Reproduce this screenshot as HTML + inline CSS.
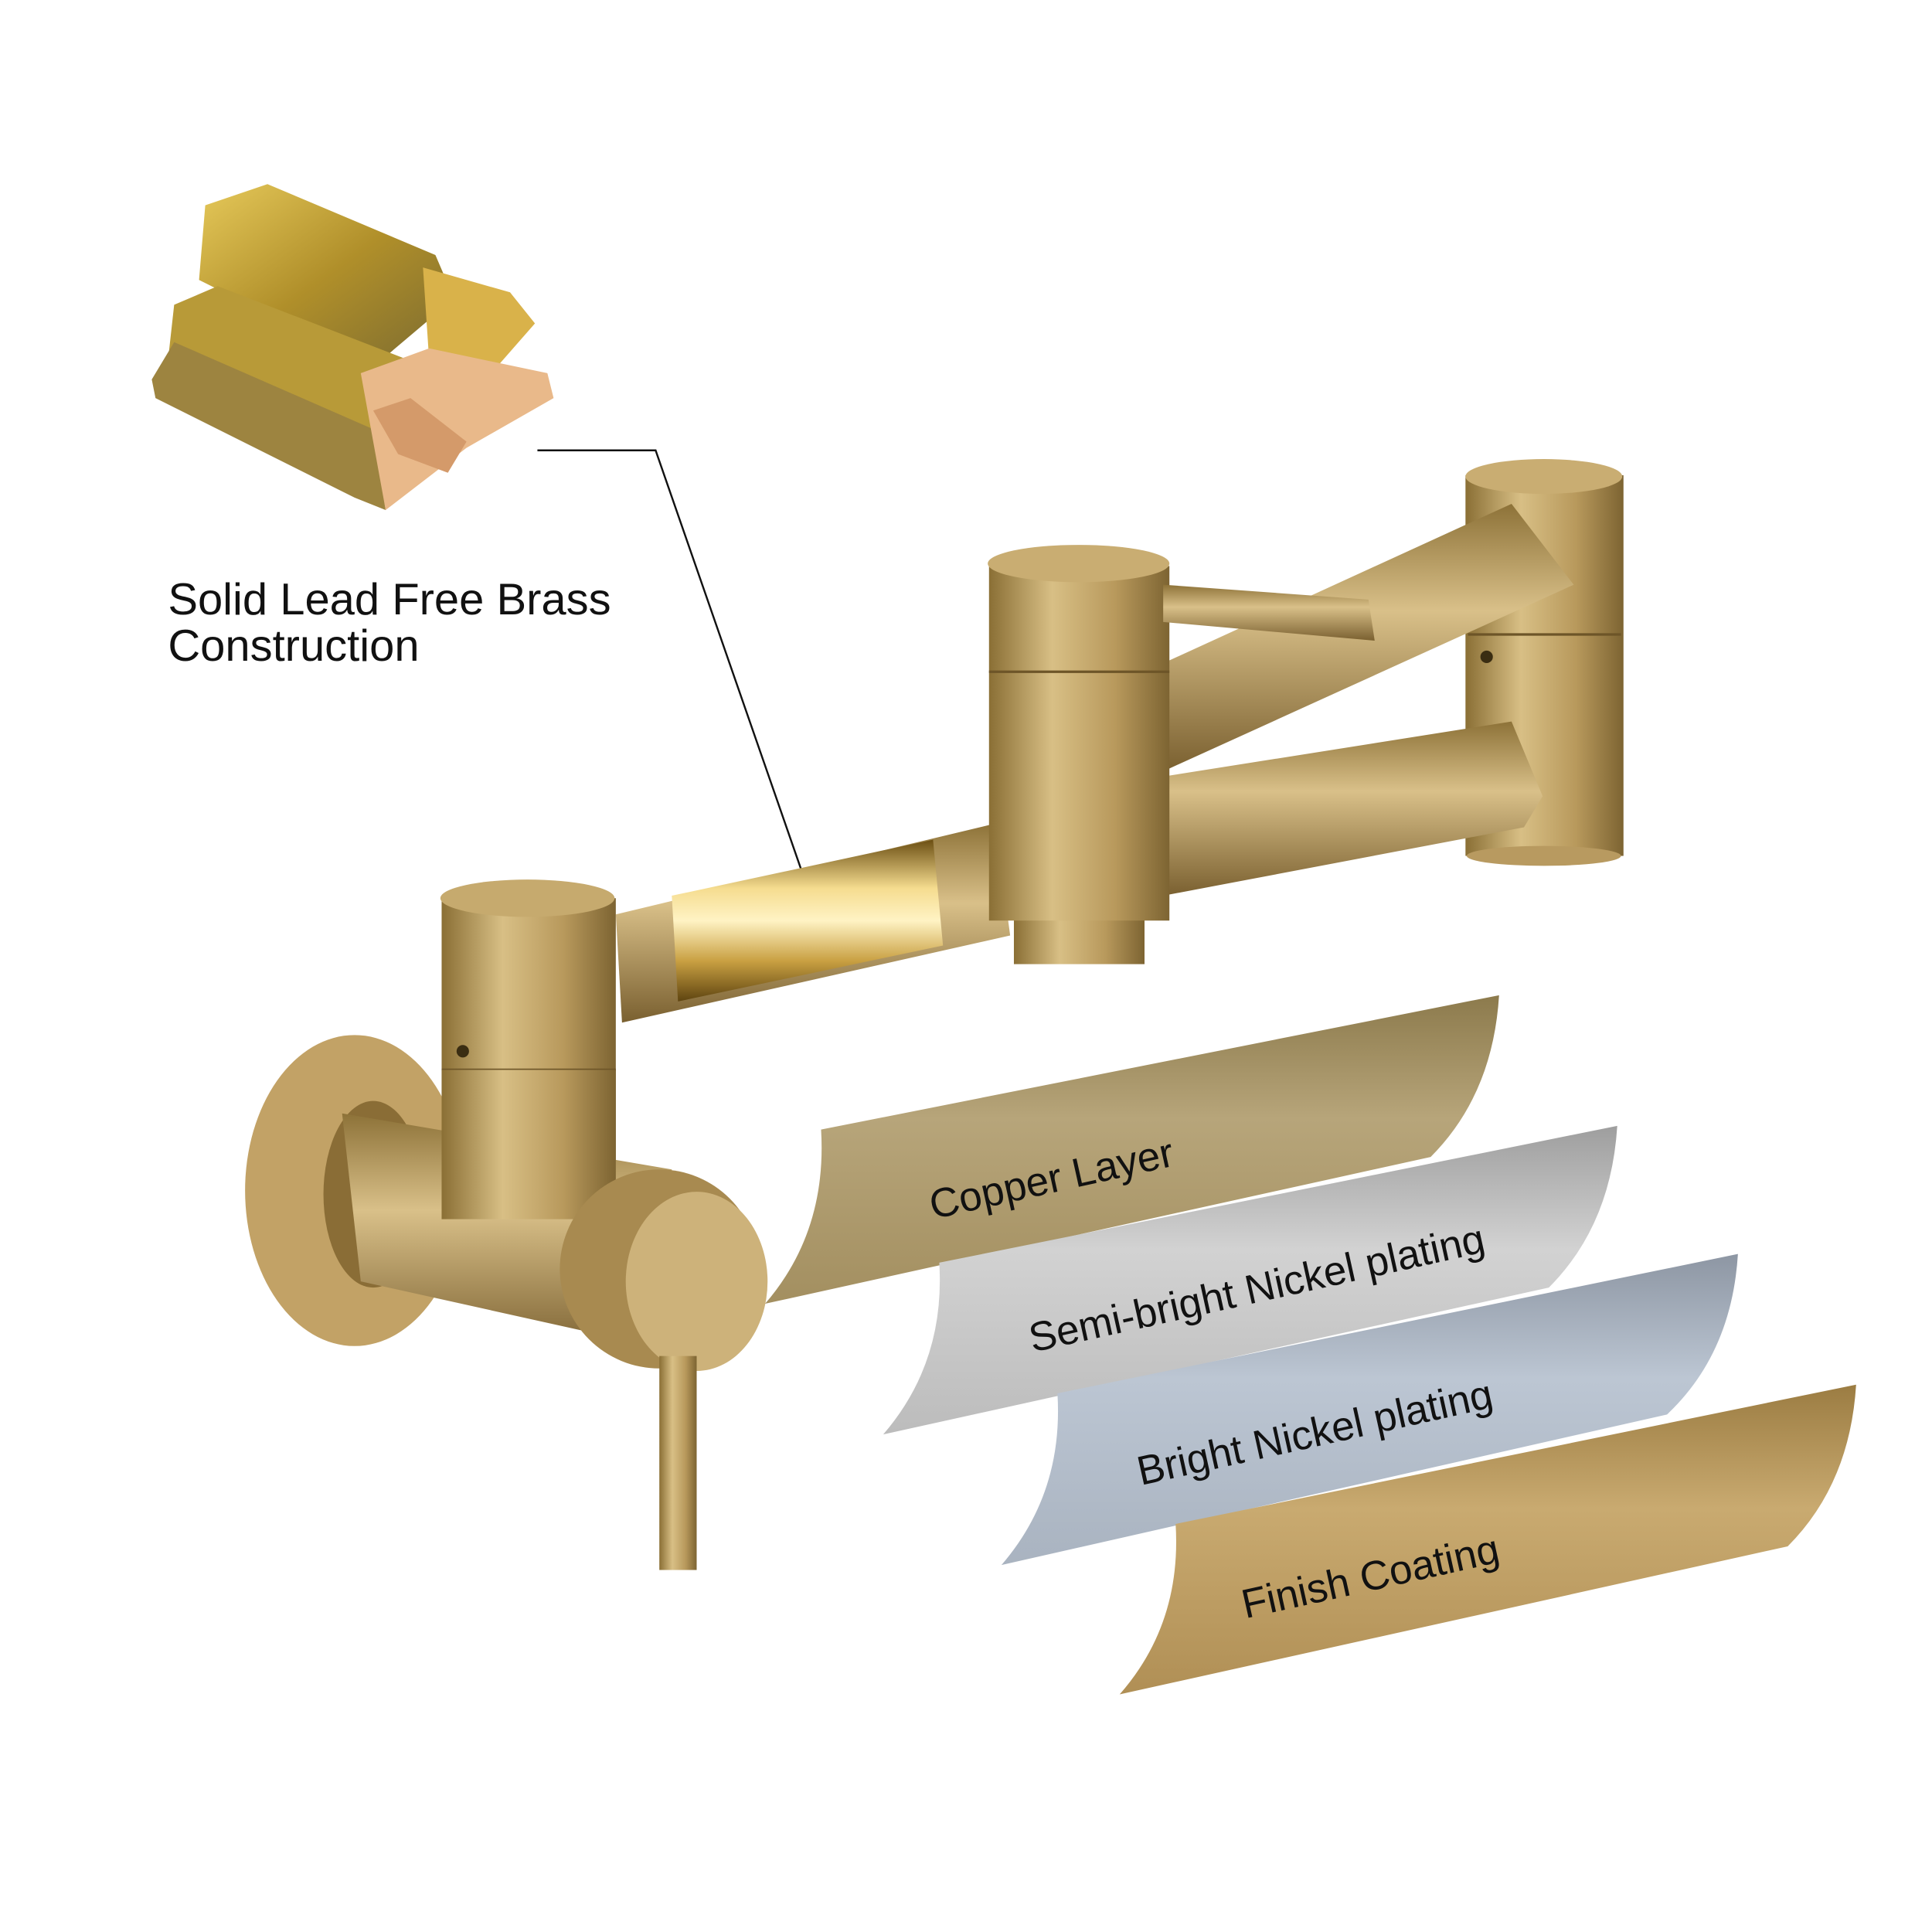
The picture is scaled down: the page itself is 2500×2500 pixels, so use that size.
<!DOCTYPE html>
<html><head><meta charset="utf-8"><style>
html,body{margin:0;padding:0;background:#fff;}
svg{display:block;}
text{font-family:"Liberation Sans",sans-serif;fill:#111;}
</style></head><body>
<svg width="2500" height="2500" viewBox="0 0 1553 1553" xmlns="http://www.w3.org/2000/svg">
<defs>
<linearGradient id="gv" x1="0" y1="0" x2="1" y2="0">
<stop offset="0" stop-color="#8a6f35"/><stop offset="0.35" stop-color="#d8bf85"/><stop offset="0.7" stop-color="#b8995c"/><stop offset="1" stop-color="#7d6432"/></linearGradient>
<linearGradient id="gh" x1="0" y1="0" x2="0" y2="1">
<stop offset="0" stop-color="#8d7238"/><stop offset="0.4" stop-color="#d9c089"/><stop offset="1" stop-color="#7a6030"/></linearGradient>
<linearGradient id="gloss" x1="0" y1="0" x2="0" y2="1">
<stop offset="0" stop-color="#6b4e12"/><stop offset="0.3" stop-color="#f5dc8f"/><stop offset="0.5" stop-color="#fff3c4"/><stop offset="0.75" stop-color="#c9a042"/><stop offset="1" stop-color="#5e4410"/></linearGradient>
<linearGradient id="gold" x1="0" y1="0" x2="1" y2="1">
<stop offset="0" stop-color="#e6c95a"/><stop offset="0.5" stop-color="#b08f2a"/><stop offset="1" stop-color="#7a6a30"/></linearGradient>
<linearGradient id="cu" x1="0" y1="0" x2="0" y2="1"><stop offset="0" stop-color="#8c7a4c"/><stop offset="0.4" stop-color="#b7a57a"/><stop offset="1" stop-color="#a38f60"/></linearGradient>
<linearGradient id="sb" x1="0" y1="0" x2="0" y2="1"><stop offset="0" stop-color="#9e9e9e"/><stop offset="0.4" stop-color="#d2d2d2"/><stop offset="1" stop-color="#bcbcbc"/></linearGradient>
<linearGradient id="bn" x1="0" y1="0" x2="0" y2="1"><stop offset="0" stop-color="#8d96a3"/><stop offset="0.4" stop-color="#bcc6d3"/><stop offset="1" stop-color="#a9b3c0"/></linearGradient>
<linearGradient id="fc" x1="0" y1="0" x2="0" y2="1"><stop offset="0" stop-color="#9b7c42"/><stop offset="0.4" stop-color="#c9aa70"/><stop offset="1" stop-color="#b08f55"/></linearGradient>
</defs>
<rect width="1553" height="1553" fill="#fff"/>

<polygon points="165,165 215,148 350,205 365,240 300,295 160,225" fill="url(#gold)"/>
<polygon points="340,215 410,235 430,260 395,300 345,290" fill="#d9b24a"/>
<polygon points="140,245 175,230 330,290 340,340 295,360 135,290" fill="#b89a38"/>
<polygon points="122,305 140,275 300,345 310,410 285,400 125,320" fill="#9d8440"/>
<polygon points="290,300 345,280 440,300 445,320 375,360 310,410" fill="#e9b98a"/>
<polygon points="300,330 330,320 375,355 360,380 320,365" fill="#d49a6a"/>

<polyline points="432,362 527,362 652,722" fill="none" stroke="#111" stroke-width="1.5"/>

<text x="135" y="494" font-size="36">Solid Lead Free Brass</text>
<text x="135" y="531" font-size="36">Construction</text>

<rect x="1178" y="382" width="127" height="306" fill="url(#gv)"/>
<ellipse cx="1241" cy="383" rx="63" ry="14" fill="#c9ad72"/>
<line x1="1180" y1="510" x2="1303" y2="510" stroke="#6d5528" stroke-width="2"/>
<ellipse cx="1241" cy="688" rx="62" ry="8" fill="#b89a60"/>
<polygon points="920,540 1215,405 1265,470 935,620" fill="url(#gh)"/>
<polygon points="930,625 1215,580 1240,640 1225,665 935,720" fill="url(#gh)"/>
<polygon points="495,735 800,662 812,752 500,822" fill="url(#gh)"/>
<polygon points="540,720 750,675 758,760 545,805" fill="url(#gloss)"/>
<rect x="355" y="722" width="140" height="255" fill="url(#gv)"/>
<ellipse cx="424" cy="722" rx="70" ry="15" fill="#c6aa6e"/>
<line x1="355" y1="860" x2="495" y2="860" stroke="#6d5528" stroke-width="2"/>
<circle cx="372" cy="845" r="5" fill="#3a2d12"/>
<ellipse cx="285" cy="957" rx="88" ry="125" fill="#c2a266"/>
<ellipse cx="300" cy="960" rx="40" ry="75" fill="#8a6d36"/>
<polygon points="275,895 540,940 560,1090 290,1030" fill="url(#gh)"/>
<rect x="355" y="860" width="140" height="120" fill="url(#gv)"/>
<ellipse cx="530" cy="1020" rx="80" ry="80" fill="#a88a50"/>
<ellipse cx="560" cy="1030" rx="57" ry="72" fill="#cdb27a"/>
<rect x="530" y="1090" width="30" height="172" fill="url(#gv)"/>
<rect x="815" y="730" width="105" height="45" fill="url(#gv)"/>
<rect x="795" y="455" width="145" height="285" fill="url(#gv)"/>
<ellipse cx="867" cy="453" rx="73" ry="15" fill="#c9ad72"/>
<line x1="795" y1="540" x2="940" y2="540" stroke="#6d5528" stroke-width="2"/>
<polygon points="935,470 1100,482 1105,515 935,500" fill="url(#gh)"/>
<circle cx="1195" cy="528" r="5" fill="#3a2d12"/>

<path d="M660,908 L1205,800 Q1200,880 1150,930 L615,1048 Q665,990 660,908 Z" fill="url(#cu)"/>
<path d="M755,1015 L1300,905 Q1295,985 1245,1035 L710,1153 Q760,1095 755,1015 Z" fill="url(#sb)"/>
<path d="M850,1120 L1397,1008 Q1392,1088 1340,1137 L805,1258 Q855,1200 850,1120 Z" fill="url(#bn)"/>
<path d="M945,1225 L1492,1113 Q1487,1193 1437,1243 L900,1362 Q950,1305 945,1225 Z" fill="url(#fc)"/>
<g font-size="33">
<text transform="translate(750,980) rotate(-12.5)">Copper Layer</text>
<text transform="translate(830,1087) rotate(-12.5)">Semi-bright Nickel plating</text>
<text transform="translate(917,1194) rotate(-12.5)">Bright Nickel plating</text>
<text transform="translate(1001,1301) rotate(-12.5)">Finish Coating</text>
</g>
</svg>
</body></html>
